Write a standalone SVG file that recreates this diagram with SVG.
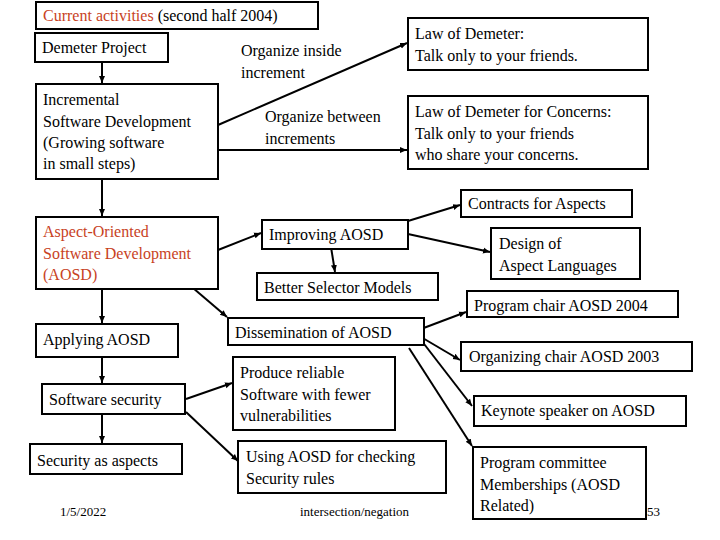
<svg xmlns="http://www.w3.org/2000/svg" width="720" height="540" viewBox="0 0 720 540">
<defs><marker id="a" markerWidth="8" markerHeight="8" refX="7" refY="4" orient="auto" markerUnits="userSpaceOnUse"><path d="M0,1 L7,4 L0,7 z" fill="#000"/></marker></defs>
<style>
rect{fill:#fff;stroke:#000;stroke-width:2}
text{font-family:"Liberation Serif",serif;font-size:16px;fill:#000}
.r{fill:#c8421e}
.f{font-size:13px}
#c line{stroke:#000;stroke-width:2;marker-end:url(#a)}
</style>
<rect x="0" y="0" width="720" height="540" style="fill:#fff;stroke:none"/>
<g id="c">
<line x1="102" y1="62" x2="102" y2="83"/>
<line x1="218" y1="125" x2="407" y2="43"/>
<line x1="218" y1="150" x2="407" y2="150"/>
<line x1="102" y1="179" x2="102" y2="216"/>
<line x1="218" y1="250" x2="261" y2="233"/>
<line x1="408" y1="221" x2="460" y2="205"/>
<line x1="408" y1="234" x2="490" y2="252"/>
<line x1="331" y1="247" x2="335" y2="272"/>
<line x1="193" y1="288" x2="227" y2="317"/>
<line x1="102" y1="289" x2="102" y2="323"/>
<line x1="102" y1="357" x2="102" y2="383"/>
<line x1="102" y1="414" x2="102" y2="443"/>
<line x1="186" y1="399" x2="232" y2="383"/>
<line x1="186" y1="412" x2="238" y2="461"/>
<line x1="421" y1="329" x2="466" y2="312"/>
<line x1="421" y1="337" x2="460" y2="360"/>
<line x1="421" y1="340" x2="472" y2="406"/>
<line x1="409" y1="348" x2="472" y2="446"/>
</g>
<g id="title"><rect x="36" y="2" width="282" height="27"/><text x="43" y="21"><tspan class="r">Current activities</tspan> (second half 2004)</text></g>
<g id="demeter"><rect x="35" y="33" width="133" height="29"/><text x="42" y="53">Demeter Project</text></g>
<g id="lbl1"><text x="241" y="56">Organize inside</text><text x="241" y="78">increment</text></g>
<g id="lbl2"><text x="265" y="122">Organize between</text><text x="265" y="144">increments</text></g>
<g id="inc"><rect x="36" y="84" width="182" height="95"/><text x="43" y="105">Incremental</text><text x="43" y="127">Software Development</text><text x="43" y="148">(Growing software</text><text x="43" y="169">in small steps)</text></g>
<g id="lod"><rect x="408" y="18" width="240" height="52"/><text x="415" y="39">Law of Demeter:</text><text x="415" y="61">Talk only to your friends.</text></g>
<g id="lodc"><rect x="408" y="96" width="240" height="73"/><text x="415" y="117">Law of Demeter for Concerns:</text><text x="415" y="139">Talk only to your friends</text><text x="415" y="160">who share your concerns.</text></g>
<g id="contracts"><rect x="461" y="190" width="171" height="27"/><text x="468" y="209">Contracts for Aspects</text></g>
<g id="aosd"><rect x="36" y="217" width="182" height="72"/><text class="r" x="43" y="237">Aspect-Oriented</text><text class="r" x="43" y="259">Software Development</text><text class="r" x="43" y="280">(AOSD)</text></g>
<g id="improving"><rect x="262" y="220" width="146" height="29"/><text x="269" y="240">Improving AOSD</text></g>
<g id="design"><rect x="491" y="228" width="149" height="51"/><text x="499" y="249">Design of</text><text x="499" y="271">Aspect Languages</text></g>
<g id="better"><rect x="257" y="273" width="181" height="27"/><text x="264" y="293">Better Selector Models</text></g>
<g id="pchair"><rect x="467" y="291" width="211" height="26"/><text x="474" y="311">Program chair AOSD 2004</text></g>
<g id="dissem"><rect x="228" y="318" width="196" height="27"/><text x="235" y="338">Dissemination of AOSD</text></g>
<g id="ochair"><rect x="461" y="342" width="231" height="29"/><text x="469" y="362">Organizing chair AOSD 2003</text></g>
<g id="applying"><rect x="36" y="324" width="142" height="33"/><text x="43" y="345">Applying AOSD</text></g>
<g id="produce"><rect x="233" y="357" width="162" height="73"/><text x="240" y="378">Produce reliable</text><text x="240" y="400">Software with fewer</text><text x="240" y="421">vulnerabilities</text></g>
<g id="softsec"><rect x="42" y="384" width="143" height="30"/><text x="49" y="405">Software security</text></g>
<g id="keynote"><rect x="474" y="396" width="212" height="30"/><text x="481" y="416">Keynote speaker on AOSD</text></g>
<g id="secasp"><rect x="30" y="444" width="152" height="30"/><text x="37" y="466">Security as aspects</text></g>
<g id="using"><rect x="238" y="441" width="208" height="52"/><text x="246" y="462">Using AOSD for checking</text><text x="246" y="484">Security rules</text></g>
<g id="pcomm"><rect x="473" y="447" width="173" height="72"/><text x="480" y="468">Program committee</text><text x="480" y="490">Memberships (AOSD</text><text x="480" y="511">Related)</text></g>
<text class="f" x="60" y="516">1/5/2022</text>
<text class="f" x="300" y="516">intersection/negation</text>
<text class="f" x="647" y="516">53</text>
</svg>
